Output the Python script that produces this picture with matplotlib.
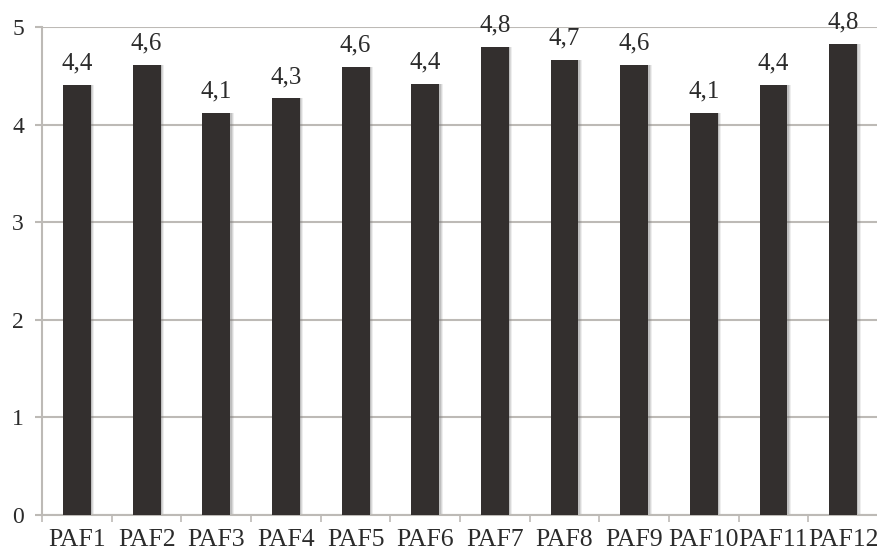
import matplotlib
matplotlib.use('Agg')
import matplotlib.pyplot as plt
import numpy as np

# --- DATA ---
categories = ['PAF1', 'PAF2', 'PAF3', 'PAF4', 'PAF5', 'PAF6',
              'PAF7', 'PAF8', 'PAF9', 'PAF10', 'PAF11', 'PAF12']
values = [4.41, 4.61, 4.12, 4.27, 4.59, 4.42, 4.80, 4.66, 4.61, 4.12, 4.41, 4.83]
y_ticks = [0, 1, 2, 3, 4, 5]

bar_color = '#332f2e'
grid_color = '#bdbab6'
text_color = '#2b2b2b'

plt.rcParams['font.family'] = ['Liberation Serif', 'DejaVu Serif']

fig = plt.figure(figsize=(8.78, 5.52), dpi=100)
ax = fig.add_axes([0.048, 0.067, 0.952, 0.884])

x = np.arange(len(categories))

# soft shadow on the right side of each bar
for off, a in [(0.05, 0.12), (0.035, 0.18), (0.02, 0.25)]:
    ax.bar(x + off, values, width=0.4, color='#777777', alpha=a, zorder=2)
ax.bar(x, values, width=0.4, color=bar_color, zorder=3)

# value labels, decimal comma
for xi, v in zip(x, values):
    ax.annotate(f'{v:.1f}'.replace('.', ','), (xi, v), xytext=(0, 11),
                textcoords='offset points', ha='center', va='baseline',
                fontsize=18, color=text_color)

ax.set_xlim(-0.5, len(categories) - 0.5)
ax.set_ylim(0, 5)
ax.set_yticks(y_ticks)
ax.set_yticklabels([str(t) for t in y_ticks])
ax.yaxis.grid(True, color=grid_color, linewidth=1.5, zorder=0)
ax.set_axisbelow(True)

ax.set_xticks(x)
ax.set_xticklabels(categories)
ax.set_xticks(np.arange(-0.5, len(categories), 1), minor=True)
ax.tick_params(axis='x', which='major', length=0, pad=10, labelsize=18.5, labelcolor=text_color)
ax.tick_params(axis='x', which='minor', length=5, width=1.2, color=grid_color, direction='out')
ax.tick_params(axis='y', length=5, width=1.5, color=grid_color, pad=8, labelsize=17, labelcolor=text_color)

for s in ['top', 'right']:
    ax.spines[s].set_visible(False)
for s in ['left', 'bottom']:
    ax.spines[s].set_color(grid_color)
    ax.spines[s].set_linewidth(1.5)

fig.savefig('out.png', dpi=100)
